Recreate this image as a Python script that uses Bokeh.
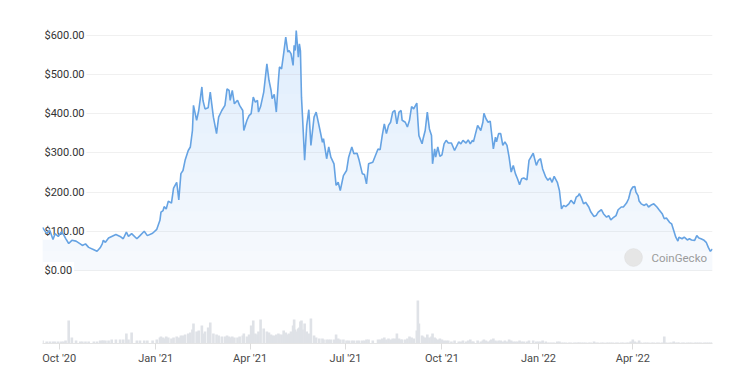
import numpy as np
import pandas as pd
from bokeh.plotting import figure
from bokeh.models import Range1d, FixedTicker, ColumnDataSource, Label, BoxAnnotation
from bokeh.core.properties import value
from bokeh.embed import file_html
from bokeh.resources import INLINE

dates = [
    "2020-09-15", "2020-09-19", "2020-09-22", "2020-09-25", "2020-09-27", "2020-09-30",
    "2020-10-03", "2020-10-05", "2020-10-07", "2020-10-10", "2020-10-13", "2020-10-17",
    "2020-10-21", "2020-10-23", "2020-10-26", "2020-10-29", "2020-11-03", "2020-11-06",
    "2020-11-09", "2020-11-11", "2020-11-12", "2020-11-14", "2020-11-17", "2020-11-20",
    "2020-11-24", "2020-11-28", "2020-12-01", "2020-12-04", "2020-12-06", "2020-12-09",
    "2020-12-14", "2020-12-17", "2020-12-21", "2020-12-24", "2020-12-29", "2021-01-02",
    "2021-01-05", "2021-01-06", "2021-01-08", "2021-01-09", "2021-01-11", "2021-01-13",
    "2021-01-16", "2021-01-18", "2021-01-21", "2021-01-23", "2021-01-25", "2021-01-27",
    "2021-01-29", "2021-02-01", "2021-02-03", "2021-02-05", "2021-02-06", "2021-02-09",
    "2021-02-11", "2021-02-14", "2021-02-15", "2021-02-17", "2021-02-20", "2021-02-22",
    "2021-02-25", "2021-02-28", "2021-03-02", "2021-03-05", "2021-03-08", "2021-03-10",
    "2021-03-12", "2021-03-13", "2021-03-15", "2021-03-17", "2021-03-20", "2021-03-22",
    "2021-03-25", "2021-03-26", "2021-03-29", "2021-03-31", "2021-04-02", "2021-04-04",
    "2021-04-06", "2021-04-08", "2021-04-09", "2021-04-11", "2021-04-14", "2021-04-17",
    "2021-04-19", "2021-04-21", "2021-04-22", "2021-04-24", "2021-04-26", "2021-04-28",
    "2021-04-29", "2021-05-01", "2021-05-03", "2021-05-05", "2021-05-07", "2021-05-08",
    "2021-05-10", "2021-05-12", "2021-05-13", "2021-05-14", "2021-05-15", "2021-05-17",
    "2021-05-18", "2021-05-19", "2021-05-20", "2021-05-21", "2021-05-23", "2021-05-25",
    "2021-05-27", "2021-05-29", "2021-06-01", "2021-06-03", "2021-06-06", "2021-06-09",
    "2021-06-10", "2021-06-13", "2021-06-15", "2021-06-17", "2021-06-20", "2021-06-22",
    "2021-06-24", "2021-06-26", "2021-06-29", "2021-07-02", "2021-07-04", "2021-07-07",
    "2021-07-09", "2021-07-12", "2021-07-14", "2021-07-17", "2021-07-19", "2021-07-21",
    "2021-07-23", "2021-07-27", "2021-08-01", "2021-08-03", "2021-08-05", "2021-08-07",
    "2021-08-09", "2021-08-11", "2021-08-13", "2021-08-15", "2021-08-17", "2021-08-19",
    "2021-08-21", "2021-08-23", "2021-08-24", "2021-08-27", "2021-08-29", "2021-08-31",
    "2021-09-02", "2021-09-04", "2021-09-07", "2021-09-08", "2021-09-09", "2021-09-12",
    "2021-09-13", "2021-09-15", "2021-09-17", "2021-09-19", "2021-09-21", "2021-09-22",
    "2021-09-24", "2021-09-25", "2021-09-27", "2021-09-29", "2021-10-01", "2021-10-03",
    "2021-10-05", "2021-10-07", "2021-10-10", "2021-10-13", "2021-10-17", "2021-10-19",
    "2021-10-21", "2021-10-24", "2021-10-26", "2021-10-28", "2021-10-30", "2021-10-31",
    "2021-11-04", "2021-11-07", "2021-11-09", "2021-11-10", "2021-11-12", "2021-11-14",
    "2021-11-16", "2021-11-17", "2021-11-19", "2021-11-21", "2021-11-22", "2021-11-24",
    "2021-11-26", "2021-11-28", "2021-11-30", "2021-12-02", "2021-12-04", "2021-12-06",
    "2021-12-08", "2021-12-10", "2021-12-12", "2021-12-14", "2021-12-16", "2021-12-18",
    "2021-12-21", "2021-12-23", "2021-12-27", "2021-12-30", "2022-01-01", "2022-01-03",
    "2022-01-05", "2022-01-08", "2022-01-10", "2022-01-12", "2022-01-14", "2022-01-16",
    "2022-01-19", "2022-01-21", "2022-01-23", "2022-01-25", "2022-01-27", "2022-01-30",
    "2022-02-01", "2022-02-04", "2022-02-06", "2022-02-08", "2022-02-09", "2022-02-11",
    "2022-02-13", "2022-02-15", "2022-02-18", "2022-02-20", "2022-02-23", "2022-02-25",
    "2022-02-27", "2022-03-02", "2022-03-04", "2022-03-07", "2022-03-09", "2022-03-11",
    "2022-03-13", "2022-03-16", "2022-03-18", "2022-03-21", "2022-03-23", "2022-03-26",
    "2022-03-28", "2022-03-30", "2022-04-01", "2022-04-03", "2022-04-04", "2022-04-06",
    "2022-04-07", "2022-04-09", "2022-04-12", "2022-04-14", "2022-04-16", "2022-04-19",
    "2022-04-21", "2022-04-24", "2022-04-26", "2022-04-29", "2022-05-01", "2022-05-03",
    "2022-05-06", "2022-05-08", "2022-05-10", "2022-05-12", "2022-05-14", "2022-05-15",
    "2022-05-18", "2022-05-20", "2022-05-23", "2022-05-25", "2022-05-27", "2022-05-30",
    "2022-06-01", "2022-06-03", "2022-06-05", "2022-06-08", "2022-06-10", "2022-06-12",
    "2022-06-14", "2022-06-16",
]

prices = [
    110, 94, 102, 79, 94, 87,
    98, 92, 82, 69, 77, 75,
    68, 64, 68, 59, 53, 49,
    58, 68, 77, 72, 83, 87,
    92, 87, 81, 98, 87, 94,
    81, 89, 100, 89, 95, 105,
    128, 149, 153, 163, 157, 177,
    172, 210, 225, 180, 247, 255,
    281, 306, 315, 357, 421, 383,
    408, 468, 434, 412, 415, 455,
    391, 349, 391, 408, 421, 463,
    459, 434, 459, 425, 434, 421,
    408, 357, 383, 395, 400, 442,
    429, 434, 404, 418, 455, 527,
    485, 459, 438, 449, 404, 485,
    519, 514, 553, 595, 557, 561,
    553, 523, 574, 561, 612, 544,
    578, 560, 442, 391, 281, 370,
    410, 319, 391, 404, 366, 327,
    336, 285, 315, 289, 272, 217,
    225, 204, 242, 255, 289, 315,
    298, 299, 281, 247, 245, 221,
    272, 276, 310, 308, 344, 374,
    349, 370, 378, 404, 408, 374,
    404, 408, 383, 378, 366, 383,
    418, 412, 427, 383, 344, 323,
    336, 357, 404, 361, 344, 272,
    310, 289, 315, 291, 295, 323,
    332, 325, 325, 306, 328, 323,
    332, 325, 333, 323, 332, 328,
    370, 357, 378, 401, 387, 378,
    381, 357, 310, 340, 328, 349,
    349, 319, 328, 319, 289, 251,
    268, 247, 234, 219, 234, 236,
    231, 281, 299, 268, 281, 285,
    259, 238, 230, 236, 225, 240,
    225, 204, 157, 166, 163, 170,
    179, 170, 187, 191, 196, 185,
    170, 174, 162, 149, 138, 140,
    149, 155, 145, 136, 140, 129,
    134, 140, 155, 162, 162, 172,
    183, 204, 213, 214, 200, 191,
    177, 170, 166, 170, 162, 168,
    170, 162, 155, 145, 132, 134,
    123, 119, 102, 85, 75, 85,
    81, 85, 78, 81, 78, 77,
    89, 83, 81, 77, 72, 59,
    49, 55,
]

# daily trading volume, USD millions
volumes = [
    90, 60, 60, 60, 60, 60,
    60, 60, 90, 690, 180, 90,
    60, 60, 60, 60, 60, 60,
    90, 90, 90, 90, 90, 120,
    120, 120, 120, 300, 120, 330,
    90, 90, 90, 90, 90, 120,
    180, 210, 180, 150, 210, 180,
    150, 180, 210, 180, 240, 240,
    270, 300, 330, 420, 600, 360,
    390, 540, 300, 360, 480, 630,
    300, 270, 240, 210, 210, 240,
    210, 180, 210, 180, 180, 210,
    240, 300, 210, 270, 540, 690,
    300, 270, 360, 720, 450, 360,
    330, 270, 240, 240, 270, 300,
    270, 270, 390, 330, 270, 300,
    360, 540, 720, 420, 360, 450,
    480, 660, 690, 420, 600, 360,
    300, 750, 240, 180, 150, 150,
    120, 120, 120, 120, 120, 270,
    150, 120, 120, 90, 90, 90,
    90, 90, 90, 90, 90, 120,
    120, 90, 120, 120, 150, 180,
    120, 150, 120, 150, 150, 300,
    150, 120, 120, 120, 150, 210,
    180, 150, 390, 1290, 600, 240,
    210, 180, 270, 180, 210, 300,
    180, 150, 120, 150, 120, 90,
    90, 90, 60, 90, 60, 60,
    90, 60, 90, 120, 60, 60,
    90, 60, 90, 120, 90, 60,
    90, 120, 150, 90, 60, 90,
    90, 60, 90, 60, 120, 90,
    60, 60, 60, 90, 60, 60,
    60, 90, 90, 60, 60, 60,
    90, 60, 30, 30, 30, 30,
    60, 60, 30, 30, 30, 30,
    30, 30, 30, 30, 30, 30,
    30, 30, 30, 30, 60, 30,
    30, 30, 30, 30, 30, 30,
    30, 30, 30, 30, 30, 30,
    30, 60, 120, 60, 30, 30,
    90, 30, 30, 30, 30, 30,
    30, 30, 30, 30, 210, 30,
    30, 30, 60, 30, 30, 30,
    30, 30, 30, 30, 30, 30,
    30, 30, 30, 30, 30, 30,
    30, 30,
]

y_ticks = [0, 100, 200, 300, 400, 500, 600]
y_tick_labels = ["$0.00", "$100.00", "$200.00", "$300.00", "$400.00", "$500.00", "$600.00"]
x_ticks = ["2020-10-01", "2021-01-01", "2021-04-01", "2021-07-01",
           "2021-10-01", "2022-01-01", "2022-04-01"]
x_tick_labels = ["Oct '20", "Jan '21", "Apr '21", "Jul '21", "Oct '21", "Jan '22", "Apr '22"]

dt = pd.to_datetime(dates)
price_arr = np.array(prices, dtype=float)

p = figure(width=750, height=375, x_axis_type="datetime", y_axis_location=None,
           output_backend="svg", toolbar_location=None,
           x_range=Range1d(dt[0].to_pydatetime(), dt[-1].to_pydatetime()),
           y_range=Range1d(-186, 668),
           min_border_left=42, min_border_right=38, min_border_top=8, min_border_bottom=32)
p.extra_y_ranges = {"vol": Range1d(0, 10050)}
p.outline_line_color = None
p.background_fill_color = "white"
p.border_fill_color = "white"

# grid
p.xgrid.grid_line_color = None
p.ygrid.ticker = FixedTicker(ticks=y_ticks)
p.ygrid.grid_line_color = "#f0f0f0"
p.ygrid.grid_line_width = 1

# x axis
tick_ms = [int(pd.Timestamp(t).value // 10**6) for t in x_ticks]
p.xaxis.ticker = FixedTicker(ticks=tick_ms)
p.xaxis.major_label_overrides = {ms: lab for ms, lab in zip(tick_ms, x_tick_labels)}
p.xaxis.axis_line_color = "#e4e4e4"
p.xaxis.major_tick_line_color = "#dcdcdc"
p.xaxis.major_tick_out = 6
p.xaxis.major_tick_in = 0
p.xaxis.minor_tick_line_color = None
p.xaxis.major_label_standoff = 2
p.xaxis.major_label_text_font = "Roboto"
p.xaxis.major_label_text_font_size = "11px"
p.xaxis.major_label_text_color = "#4a4a4a"

# gradient-like area fill under the price line
levels = np.arange(0, 650, 50)
for i, lev in enumerate(levels):
    p.varea(x=dt, y1=np.full(len(price_arr), float(lev)),
            y2=np.maximum(price_arr, lev),
            fill_color="#bcd6f2", fill_alpha=0.14 if i == 0 else 0.035)

# y tick labels inside the plot
lab_src = ColumnDataSource(dict(x=[dt[0]] * len(y_ticks), y=y_ticks, text=y_tick_labels))
try:
    p.text(x="x", y="y", text="text", source=lab_src, text_align="left",
           text_baseline="middle", text_font=value("Roboto"), text_font_size="11px",
           text_color="#333333", background_fill_color="white", padding=2)
except Exception:
    p.text(x="x", y="y", text="text", source=lab_src, text_align="left",
           text_baseline="middle", text_font=value("Roboto"), text_font_size="11px",
           text_color="#333333")

# volume bars
p.vbar(x=dt, top=volumes, width=2.5 * 86400000, y_range_name="vol",
       fill_color="#dfe2e7", line_color=None)

# price line
p.line(dt, price_arr, line_color="#66a3e3", line_width=1.6)

# watermark
logo = BoxAnnotation(left=582, right=600, bottom=77, top=95,
                     left_units="screen", right_units="screen",
                     top_units="screen", bottom_units="screen",
                     fill_color="#e6e6e6", fill_alpha=1.0, line_color="#d6d6d6",
                     line_width=1, border_radius=9)
p.add_layout(logo)
p.add_layout(Label(x=609, y=86, x_units="screen", y_units="screen", text="CoinGecko",
                   text_font="Roboto", text_font_size="11.5px", text_color="#9b9b9b",
                   text_baseline="middle"))

open("out.html", "w").write(file_html(p, INLINE))
